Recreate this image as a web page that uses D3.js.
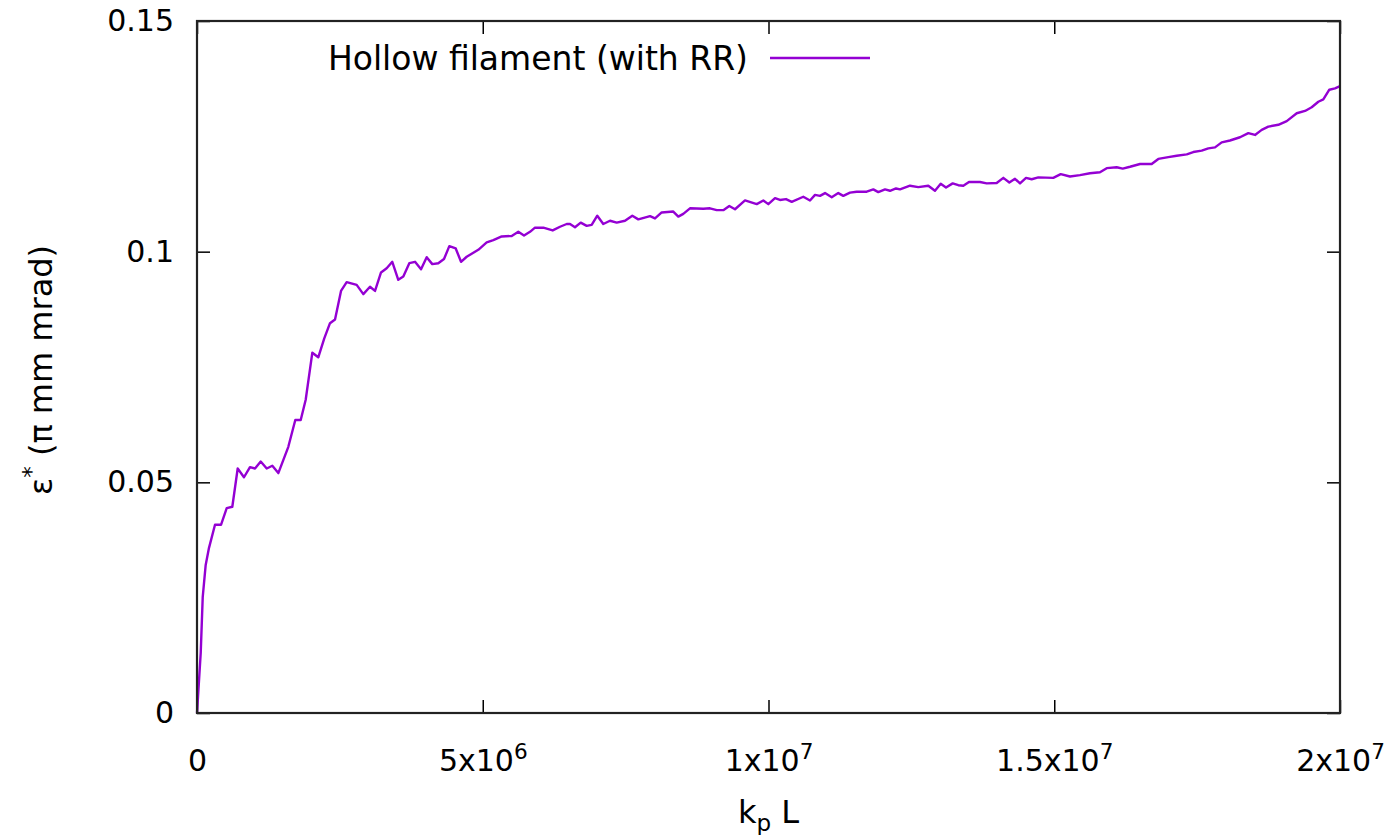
<!DOCTYPE html>
<html>
<head>
<meta charset="utf-8">
<script src="https://cdn.jsdelivr.net/npm/d3@7"></script>
<style>
  html, body { margin: 0; padding: 0; background: #fff; }
  svg { display: block; font-family: "DejaVu Sans", sans-serif; }
</style>
</head>
<body>
<svg id="chart" width="1399" height="835"></svg>
<script>
// Normalised emittance vs. propagation distance k_p L (distance in units of 1e6)
const kpL = [
  0, 0.065, 0.100, 0.152, 0.210, 0.315, 0.420, 0.520, 0.618, 0.712,
  0.822, 0.927, 1.015, 1.115, 1.220, 1.318, 1.423, 1.598, 1.720, 1.815,
  1.902, 2.018, 2.122, 2.227, 2.327, 2.415, 2.520, 2.619, 2.794, 2.910,
  3.027, 3.115, 3.220, 3.319, 3.417, 3.522, 3.610, 3.715, 3.815, 3.920,
  4.019, 4.117, 4.222, 4.322, 4.415, 4.527, 4.620, 4.719, 4.922, 5.069,
  5.185, 5.332, 5.507, 5.622, 5.722, 5.827, 5.914, 6.060, 6.224, 6.352,
  6.469, 6.527, 6.614, 6.714, 6.819, 6.906, 7.004, 7.109, 7.227, 7.344,
  7.489, 7.617, 7.722, 7.927, 8.014, 8.131, 8.334, 8.422, 8.509, 8.626,
  8.859, 8.976, 9.094, 9.209, 9.314, 9.414, 9.589, 9.794, 9.909, 9.997,
  10.114, 10.201, 10.306, 10.406, 10.609, 10.726, 10.814, 10.901, 10.989, 11.106,
  11.221, 11.309, 11.426, 11.543, 11.718, 11.834, 11.921, 12.039, 12.126, 12.231,
  12.301, 12.476, 12.621, 12.796, 12.913, 13.013, 13.106, 13.223, 13.321, 13.409,
  13.508, 13.701, 13.818, 13.993, 14.109, 14.214, 14.313, 14.401, 14.506, 14.605,
  14.721, 14.983, 15.113, 15.275, 15.450, 15.625, 15.800, 15.918, 16.093, 16.198,
  16.326, 16.501, 16.705, 16.821, 16.996, 17.143, 17.318, 17.433, 17.580, 17.696,
  17.813, 17.930, 18.075, 18.250, 18.396, 18.513, 18.630, 18.746, 18.921, 19.068,
  19.243, 19.388, 19.505, 19.621, 19.708, 19.813, 19.913, 20.000
];
const emittance = [
  0, 0.0130, 0.0251, 0.0321, 0.0358, 0.0408, 0.0408, 0.0444, 0.0447, 0.0530,
  0.0511, 0.0533, 0.0530, 0.0545, 0.0530, 0.0536, 0.0520, 0.0577, 0.0635, 0.0635,
  0.0679, 0.0781, 0.0771, 0.0812, 0.0845, 0.0853, 0.0915, 0.0934, 0.0928, 0.0908,
  0.0924, 0.0915, 0.0955, 0.0964, 0.0978, 0.0939, 0.0946, 0.0975, 0.0978, 0.0962,
  0.0988, 0.0973, 0.0975, 0.0984, 0.1012, 0.1007, 0.0978, 0.0989, 0.1004, 0.1020,
  0.1025, 0.1033, 0.1034, 0.1043, 0.1035, 0.1043, 0.1052, 0.1052, 0.1046, 0.1054,
  0.1060, 0.1060, 0.1053, 0.1063, 0.1056, 0.1058, 0.1078, 0.1060, 0.1067, 0.1063,
  0.1067, 0.1078, 0.1070, 0.1077, 0.1072, 0.1085, 0.1087, 0.1076, 0.1082, 0.1094,
  0.1093, 0.1094, 0.1090, 0.1090, 0.1099, 0.1092, 0.1111, 0.1103, 0.1111, 0.1103,
  0.1116, 0.1112, 0.1114, 0.1108, 0.1119, 0.1111, 0.1123, 0.1121, 0.1127, 0.1118,
  0.1127, 0.1121, 0.1128, 0.1130, 0.1130, 0.1135, 0.1129, 0.1135, 0.1132, 0.1137,
  0.1135, 0.1143, 0.1140, 0.1143, 0.1132, 0.1147, 0.1139, 0.1148, 0.1144, 0.1143,
  0.1151, 0.1151, 0.1148, 0.1149, 0.1160, 0.1150, 0.1158, 0.1148, 0.1160, 0.1157,
  0.1161, 0.1160, 0.1168, 0.1163, 0.1166, 0.1170, 0.1172, 0.1181, 0.1183, 0.1180,
  0.1184, 0.1190, 0.1190, 0.1201, 0.1205, 0.1208, 0.1211, 0.1216, 0.1219, 0.1224,
  0.1226, 0.1237, 0.1241, 0.1248, 0.1257, 0.1253, 0.1264, 0.1271, 0.1275, 0.1283,
  0.1300, 0.1305, 0.1313, 0.1325, 0.1330, 0.1351, 0.1354, 0.1359
];
const xTicks = [0, 5e6, 1e7, 1.5e7, 2e7];
const xTickLabels = [["0", ""], ["5x10", "6"], ["1x10", "7"], ["1.5x10", "7"], ["2x10", "7"]];
const yTicks = [0, 0.05, 0.1, 0.15];
const yTickLabels = ["0", "0.05", "0.1", "0.15"];
const seriesName = "Hollow filament (with RR)";

const W = 1399, H = 835;
const margin = { left: 197, top: 21, right: W - 1340, bottom: H - 713 };
const iw = W - margin.left - margin.right;
const ih = H - margin.top - margin.bottom;
const lineColor = "#9400d3";
const fontSize = 30;

const svg = d3.select("#chart");
const g = svg.append("g").attr("transform", `translate(${margin.left},${margin.top})`);

const x = d3.scaleLinear().domain([0, 2e7]).range([0, iw]);
const y = d3.scaleLinear().domain([0, 0.15]).range([ih, 0]);

const tickLen = 13;

// Bottom axis (ticks point inward) with superscript exponents
const xAxis = g.append("g").attr("transform", `translate(0,${ih})`)
  .call(d3.axisBottom(x).tickValues(xTicks).tickSizeInner(-tickLen).tickSizeOuter(0).tickPadding(tickLen + 24)
    .tickFormat(() => ""));
xAxis.select(".domain").remove();
xAxis.selectAll(".tick line").attr("stroke", "#000").attr("stroke-width", 1.5);
xAxis.selectAll(".tick text").each(function (d, i) {
  const t = d3.select(this).attr("font-size", fontSize).attr("font-family", "DejaVu Sans").attr("fill", "#000");
  t.append("tspan").text(xTickLabels[i][0]);
  if (xTickLabels[i][1]) {
    t.append("tspan").attr("font-size", fontSize * 0.72).attr("dy", -12).text(xTickLabels[i][1]);
  }
});

// Mirrored top ticks
const xTop = g.append("g")
  .call(d3.axisTop(x).tickValues(xTicks).tickSizeInner(-tickLen).tickSizeOuter(0).tickFormat(() => ""));
xTop.select(".domain").remove();
xTop.selectAll(".tick line").attr("stroke", "#000").attr("stroke-width", 1.5);

// Left axis
const yAxis = g.append("g")
  .call(d3.axisLeft(y).tickValues(yTicks).tickSizeInner(-tickLen).tickSizeOuter(0).tickPadding(tickLen + 10)
    .tickFormat((d, i) => yTickLabels[i]));
yAxis.select(".domain").remove();
yAxis.selectAll(".tick line").attr("stroke", "#000").attr("stroke-width", 1.5);
yAxis.selectAll(".tick text").attr("font-size", fontSize).attr("font-family", "DejaVu Sans").attr("fill", "#000");

// Mirrored right ticks
const yRight = g.append("g").attr("transform", `translate(${iw},0)`)
  .call(d3.axisRight(y).tickValues(yTicks).tickSizeInner(-tickLen).tickSizeOuter(0).tickFormat(() => ""));
yRight.select(".domain").remove();
yRight.selectAll(".tick line").attr("stroke", "#000").attr("stroke-width", 1.5);

// Data curve
const pts = kpL.map((k, i) => [k * 1e6, emittance[i]]);
g.append("path")
  .datum(pts)
  .attr("fill", "none")
  .attr("stroke", lineColor)
  .attr("stroke-width", 2.4)
  .attr("stroke-linejoin", "round")
  .attr("d", d3.line().x(d => x(d[0])).y(d => y(d[1])));

// Plot frame
g.append("rect")
  .attr("x", 0).attr("y", 0).attr("width", iw).attr("height", ih)
  .attr("fill", "none").attr("stroke", "#222").attr("stroke-width", 2.2);

// Key
const keyY = 58;
svg.append("text")
  .attr("x", 748).attr("y", keyY + 12)
  .attr("text-anchor", "end")
  .attr("font-size", 33)
  .attr("fill", "#000")
  .text(seriesName);
svg.append("line")
  .attr("x1", 770).attr("x2", 870).attr("y1", keyY).attr("y2", keyY)
  .attr("stroke", lineColor).attr("stroke-width", 2.4);

// Axis titles
const xTitle = svg.append("text")
  .attr("x", margin.left + iw / 2).attr("y", 823)
  .attr("text-anchor", "middle")
  .attr("font-size", 32)
  .attr("fill", "#000");
xTitle.append("tspan").text("k");
xTitle.append("tspan").attr("font-size", 32 * 0.72).attr("dy", 8).text("p");
xTitle.append("tspan").attr("dy", -8).text(" L");

const yTitle = svg.append("text")
  .attr("transform", `translate(52,370) rotate(-90)`)
  .attr("text-anchor", "middle")
  .attr("font-size", 32)
  .attr("fill", "#000");
yTitle.append("tspan").text("ε");
yTitle.append("tspan").attr("font-size", 32 * 0.72).attr("dy", -13).text("*");
yTitle.append("tspan").attr("dy", 13).text(" (π mm mrad)");
</script>
</body>
</html>
